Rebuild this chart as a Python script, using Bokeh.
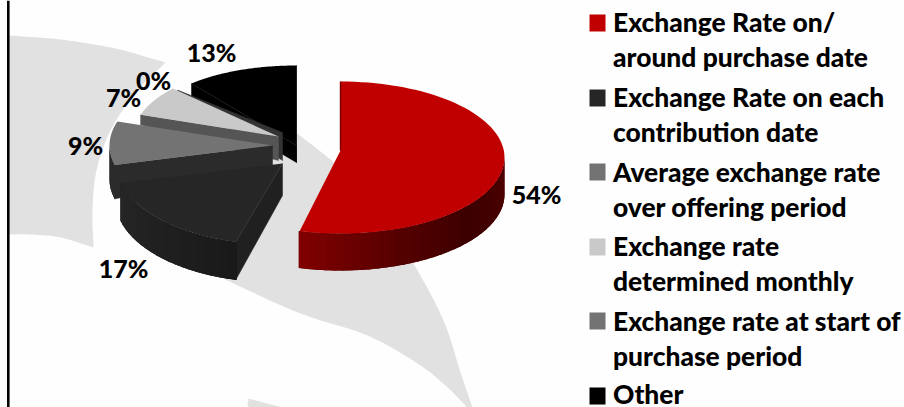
import numpy as np
from bokeh.core.properties import value
from bokeh.embed import file_html
from bokeh.models import Range1d
from bokeh.plotting import figure
from bokeh.resources import INLINE

categories = [
    "Exchange Rate on/\naround purchase date",
    "Exchange Rate on each\ncontribution date",
    "Average exchange rate\nover offering period",
    "Exchange rate\ndetermined monthly",
    "Exchange rate at start of\npurchase period",
    "Other",
]
shares = [54, 17, 9, 7, 0, 13]
slice_colors = ["#c00000", "#262626", "#737373", "#c9c9c9", "#737373", "#000000"]

WIDTH, HEIGHT = 904, 407
FONT = value("Lato Black")
PAGE = "#fefefe"
SWOOSH = "#e1e1e1"

p = figure(width=WIDTH, height=HEIGHT, output_backend="svg", toolbar_location=None,
           x_range=Range1d(0, WIDTH), y_range=Range1d(HEIGHT, 0),
           min_border=0, outline_line_color=None, background_fill_color=PAGE,
           border_fill_color=PAGE)
p.axis.visible = False
p.grid.visible = False


def curve(points, n=12):
    """Catmull-Rom curve through the given points."""
    pts = np.array(points, float)
    pad = np.vstack([2 * pts[0] - pts[1], pts, 2 * pts[-1] - pts[-2]])
    out = []
    for a, b, c, d in zip(pad[:-3], pad[1:-2], pad[2:-1], pad[3:]):
        for t in np.linspace(0, 1, n, endpoint=False):
            out.append(0.5 * (2 * b + (c - a) * t + (2 * a - 5 * b + 4 * c - d) * t ** 2
                              + (3 * b - a - 3 * c + d) * t ** 3))
    out.append(pts[-1])
    return np.array(out)


# Pale decorative swoosh behind the pie, outlined as runs of smooth edges
swoosh_left = [
    [(8, 35), (60, 39), (115, 48), (165, 62)],
    [(165, 62), (135, 92), (110, 130), (96, 170), (92, 210), (93, 247)],
    [(93, 247), (60, 237), (30, 234), (8, 234)],
]
swoosh_right = [
    [(297, 133), (340, 168), (380, 212), (413, 263), (443, 320), (460, 372), (472, 407)],
    [(472, 407), (467, 407)],
    [(467, 407), (445, 385), (417, 363), (367, 335), (300, 313), (233, 283), (220, 276)],
    [(220, 276), (220, 240), (280, 140), (297, 133)],
]
swoosh_foot = [[(248, 398), (282, 407)], [(282, 407), (250, 407), (248, 398)]]
for runs in (swoosh_left, swoosh_right, swoosh_foot):
    outline = np.vstack([curve(r) for r in runs])
    p.patch(outline[:, 0], outline[:, 1], fill_color=SWOOSH, line_color=None)

# Left rule of the frame
p.segment(x0=[7.8], y0=[0], x1=[7.8], y1=[HEIGHT], line_color="#000000", line_width=2.6)

# Pie geometry: each slice has its own exploded ellipse, apex and wall heights
ends = np.cumsum(shares) / sum(shares) * 360
starts = np.concatenate([[0], ends[:-1]])

#        cx   cy   rx   ry  apex_x apex_y rim_depth apex_depth cut colour
layout = [
    (340, 157, 164, 76, 340, 150, 37, 0, None),
    (275, 162, 160, 82, 282, 163, 38, 32, "#202020"),
    (272, 145, 163, 78, 272, 145, 34, 20, "#2b2b2b"),
    (278, 136, 145, 70, 278, 136, 10, 24, "#555555"),
    (282, 132, 144, 62, 282, 132, 6, 28, "#333333"),
    (296, 122, 144, 57, 296, 145, 17, 17, "#000000"),
]
wall_stops = {
    0: ([90, 105, 130, 160, 194.4], ["#500000", "#480000", "#3c0000", "#560000", "#800000"]),
    1: ([194.4, 255.6], ["#191919", "#262626"]),
    2: ([255.6, 288], ["#2b2b2b", "#2b2b2b"]),
}


def rim(i, theta):
    cx, cy, rx, ry = layout[i][:4]
    a = np.radians(theta)
    return cx + rx * np.sin(a), cy - ry * np.cos(a)


def blend(theta, angles, colors):
    rgb = np.array([[int(c[k:k + 2], 16) for k in (1, 3, 5)] for c in colors], float)
    mix = [np.interp(theta, angles, rgb[:, k]) for k in range(3)]
    return "#%02x%02x%02x" % tuple(int(round(v)) for v in mix)


order = [5, 4, 3, 2, 1, 0]
for i in order:
    start, end = starts[i], ends[i]
    _, _, _, _, ax, ay, rim_d, apex_d, cut = layout[i]

    # Cut face running from the apex to the rim at the slice's leading angle
    if cut is not None:
        rx0, ry0 = rim(i, start)
        p.patch([ax, rx0, rx0, ax], [ay, ry0, ry0 + rim_d, ay + apex_d],
                fill_color=cut, line_color=cut, line_width=0.5)
    if i == 5:
        ex, ey = rim(i, end)
        p.patch([ax, ex, ex, ax], [ay, ey, ay + apex_d, ay + apex_d],
                fill_color=cut, line_color=cut, line_width=0.5)

    # Outer wall: one solid underlay, then shaded strips along the front of the rim
    if i in wall_stops:
        lo, hi = max(start, 90), min(end, 270)
        angles, colors = wall_stops[i]
        edges = np.linspace(lo, hi, max(int((hi - lo) / 3), 2) + 1)
        arc_x, arc_y = rim(i, np.linspace(lo, hi, 80))
        p.patch(np.r_[arc_x, arc_x[::-1]], np.r_[arc_y, arc_y[::-1] + rim_d],
                fill_color=colors[0], line_color=None)
        for t0, t1 in zip(edges[:-1], edges[1:]):
            x0, y0 = rim(i, t0 - 0.4)
            x1, y1 = rim(i, t1 + 0.4)
            shade = blend((t0 + t1) / 2, angles, colors)
            p.patch([x0, x1, x1, x0], [y0, y1, y1 + rim_d, y0 + rim_d],
                    fill_color=shade, line_color=None)

    # Top face
    if end > start:
        theta = np.linspace(start, end, 80)
        xs, ys = rim(i, theta)
        p.patch(np.r_[ax, xs], np.r_[ay, ys], fill_color=slice_colors[i], line_color=None)

# Thin shaded edge where the red slice begins
tx, ty = rim(0, 0)
p.line([tx, layout[0][4]], [ty, layout[0][5]], line_color="#7a0000", line_width=1.4)

# Percentage labels
label_x = [536, 123, 85, 123, 153, 211]
label_y = [193, 267, 144, 96, 79, 51]
p.text(label_x, label_y, text=[f"{v}%" for v in shares], text_font=FONT, text_font_style="normal",
       text_font_size="25px", text_align="center", text_baseline="middle", text_color="#000000")

# Legend drawn by hand so that long entries can wrap over two lines
swatch_tops = [14, 89, 163, 238, 312, 387]
first_centres = [21, 96, 171, 245, 320, 393]
LINE_STEP = 35
for top, centre, name, color in zip(swatch_tops, first_centres, categories, slice_colors):
    p.quad(left=[589], right=[605], top=[top], bottom=[top + 17], fill_color=color, line_color=None)
    for n, line in enumerate(name.split("\n")):
        p.text([612.5], [centre + n * LINE_STEP], text=[line], text_font=FONT, text_font_style="normal",
               text_font_size="26.4px", text_baseline="middle", text_color="#000000")

open("out.html", "w").write(file_html(p, INLINE))
